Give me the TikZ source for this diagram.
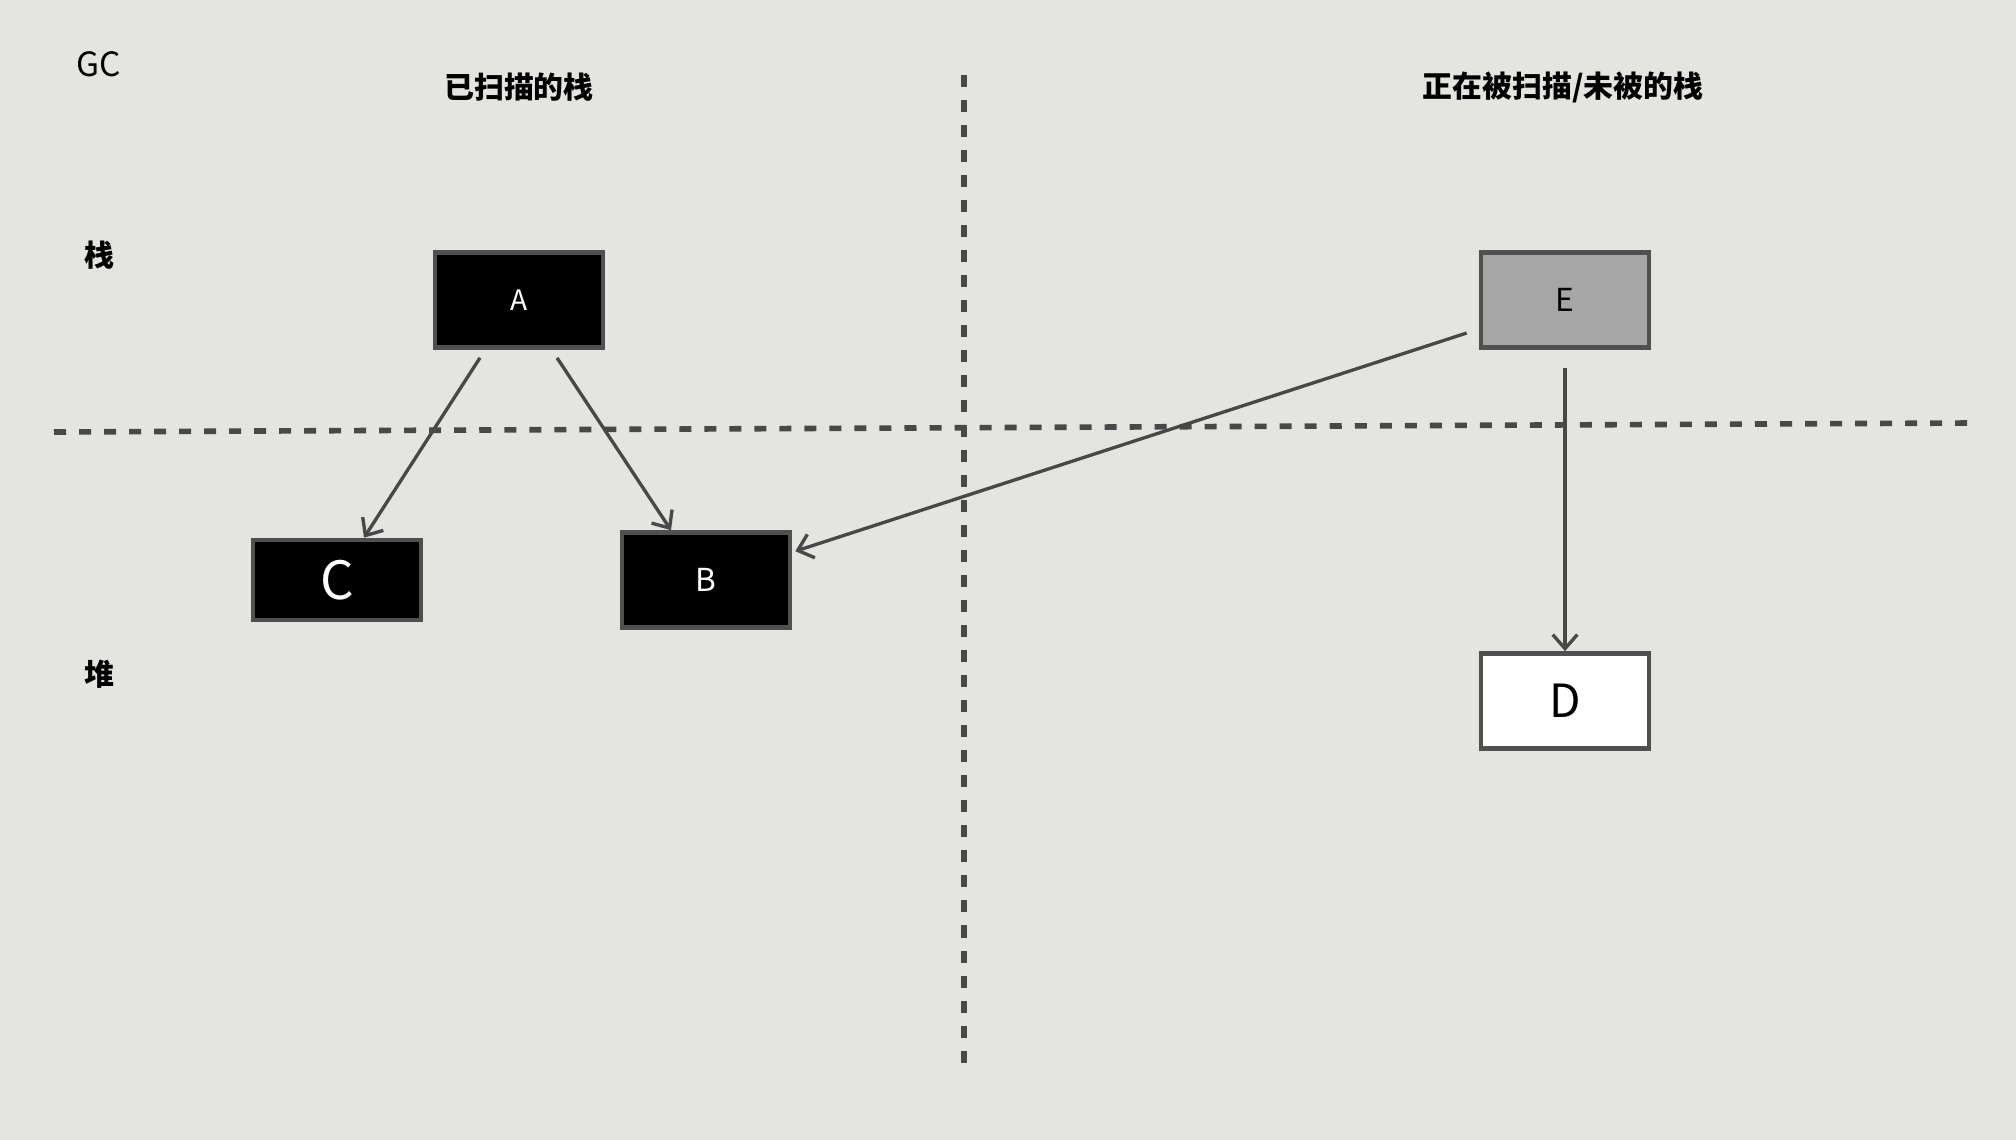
\documentclass[tikz,border=0pt]{standalone}
\usepackage{fontspec}
\newfontfamily\cjk{Noto Sans CJK SC}
\usetikzlibrary{positioning, arrows.meta}
\definecolor{paper}{RGB}{228,228,224}
\definecolor{boxgray}{RGB}{80,80,80}
\definecolor{linegray}{RGB}{72,72,72}
\definecolor{scangray}{RGB}{166,166,166}

\begin{document}
\begin{tikzpicture}[
    x=0.01cm, y=-0.01cm,
    obj/.style={draw=boxgray, line width=1.3pt, minimum width=1.68cm, minimum height=0.95cm, inner sep=0pt},
    done/.style={obj, fill=black, text=white},
    arr/.style={-{Straight Barb[length=4pt, width=7pt]}, line width=0.95pt, draw=linegray},
    sep/.style={draw=linegray, line width=1.6pt, dash pattern=on 0.12cm off 0.13cm},
    lbl/.style={font=\cjk\bfseries\fontsize{8.5}{10}\selectfont}]
    \fill[paper] (0,0) rectangle (2016,1140);
    \useasboundingbox (0,0) rectangle (2016,1140);

    % separators
    \coordinate (hl) at (54,432);
    \coordinate (hr) at (1974,423);
    \coordinate (vt) at (964,75);
    \coordinate (vb) at (964,1070);
    \draw[sep] (vt) -- (vb);
    \draw[sep] (hl) -- (hr);

    % labels
    \node[lbl, font=\cjk\fontsize{9.5}{11}\selectfont] (gc)    at (99,64)    {GC};
    \node[lbl]                                      (scanned) at (519,87)  {已扫描的栈};
    \node[lbl]                                      (pending) at (1563,87) {正在被扫描/未被的栈};
    \node[lbl]                                      (stack)   at (99,255)  {栈};
    \node[lbl]                                      (heap)    at (99,674)  {堆};

    % objects
    \node[done, font=\cjk\fontsize{8}{10}\selectfont]                          (A) at (519,300) {A};
    \node[done, minimum height=0.80cm, font=\cjk\fontsize{15}{17}\selectfont]  (C) at (337,580) {C};
    \node[done, font=\cjk\fontsize{9}{11}\selectfont]                          (B) at (706,580) {B};
    \node[obj, fill=scangray, font=\cjk\fontsize{9}{11}\selectfont]            (E) at (1565,300) {E};
    \node[obj, fill=white, font=\cjk\fontsize{13}{15}\selectfont]              (D) at (1565,701) {D};

    \draw[arr] ([xshift=-0.39cm, yshift=-0.08cm]A.south) -- ([xshift=0.27cm]C.north);
    \draw[arr] ([xshift=0.38cm, yshift=-0.08cm]A.south) -- ([xshift=-0.35cm]B.north);
    \draw[arr] ([xshift=-0.12cm, yshift=-0.33cm]E.west) -- ([xshift=0.03cm, yshift=-0.21cm]B.north east);
    \draw[arr] ([yshift=-0.18cm]E.south) -- (D.north);
  \end{tikzpicture}
\end{document}
